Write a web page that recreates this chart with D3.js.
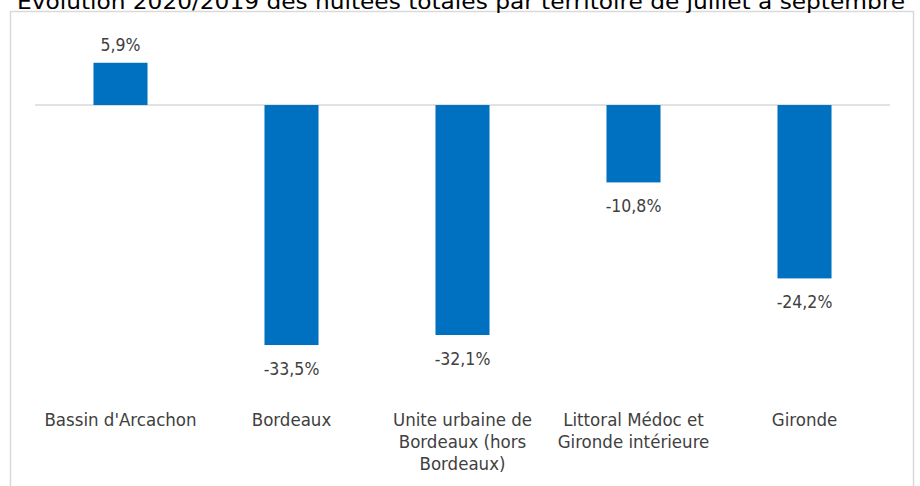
<!DOCTYPE html>
<html>
<head>
<meta charset="utf-8">
<script src="https://cdn.jsdelivr.net/npm/d3@7"></script>
<style>
  html, body { margin: 0; padding: 0; background: #fff; overflow: hidden; }
  text { font-family: "DejaVu Sans Condensed", "DejaVu Sans", sans-serif; }
</style>
</head>
<body>
<div id="chart"></div>
<script>
// Evolution 2020/2019 des nuitées totales par territoire
const categories = ["Bassin d'Arcachon", "Bordeaux", "Unite urbaine de Bordeaux (hors Bordeaux)",
  "Littoral Médoc et Gironde intérieure", "Gironde"];
const values = [5.9, -33.5, -32.1, -10.8, -24.2];
const titleText = "Evolution 2020/2019 des nuitées totales par territoire de juillet à septembre";

const width = 920, height = 486;
const margin = {left: 35, right: 30};
const barColor = "#0070C0", labelColor = "#404040";

const svg = d3.select("#chart").append("svg")
  .attr("width", width).attr("height", height);

function wrapText(sel, wrapWidth, lineHeight = 22) {
  sel.each(function () {
    const text = d3.select(this);
    const words = text.text().split(/\s+/).reverse();
    let word, line = [], lineNumber = 0;
    const y = +text.attr("y"), x = text.attr("x");
    let tspan = text.text(null).append("tspan").attr("x", x).attr("y", y);
    while ((word = words.pop())) {
      line.push(word); tspan.text(line.join(" "));
      if (tspan.node().getComputedTextLength() > wrapWidth) {
        line.pop(); tspan.text(line.join(" "));
        line = [word];
        tspan = text.append("tspan").attr("x", x).attr("y", y + (++lineNumber) * lineHeight).text(word);
      }
    }
  });
}

// chart area border
svg.append("rect").attr("x", 10.5).attr("y", 11.5).attr("width", 903).attr("height", 500)
  .attr("fill", "none").attr("stroke", "#d9d9d9").attr("stroke-width", 1.5);

// title (partly cropped at the top, as in the source picture)
svg.append("text").attr("x", 17).attr("y", 9)
  .attr("font-family", "DejaVu Sans").attr("font-size", 21).attr("fill", "#000")
  .attr("textLength", 888).attr("lengthAdjust", "spacingAndGlyphs")
  .text(titleText);

const x = d3.scaleBand().domain(categories)
  .range([margin.left, width - margin.right])
  .paddingInner(0.684).paddingOuter(0.342);

const y = d3.scaleLinear().domain([-40, 10]).range([391.6, 33.4]);

// zero line
svg.append("line").attr("x1", margin.left).attr("x2", width - margin.right)
  .attr("y1", y(0)).attr("y2", y(0)).attr("stroke", "#d9d9d9").attr("stroke-width", 1.5);

svg.selectAll("rect.bar").data(values).join("rect").attr("class", "bar")
  .attr("x", (d, i) => x(categories[i]))
  .attr("y", d => y(Math.max(0, d)))
  .attr("width", x.bandwidth())
  .attr("height", d => Math.abs(y(d) - y(0)))
  .attr("fill", barColor);

const fmt = v => d3.format(".1f")(v).replace(".", ",").replace("−", "-") + "%";

svg.selectAll("text.val").data(values).join("text").attr("class", "val")
  .attr("x", (d, i) => x(categories[i]) + x.bandwidth() / 2)
  .attr("y", d => d >= 0 ? y(d) - 12 : y(d) + 30)
  .attr("text-anchor", "middle").attr("font-size", 17.5).attr("fill", labelColor)
  .text(fmt);

svg.selectAll("text.cat").data(categories).join("text").attr("class", "cat")
  .attr("x", d => x(d) + x.bandwidth() / 2)
  .attr("y", 426)
  .attr("text-anchor", "middle").attr("font-size", 18.5).attr("fill", labelColor)
  .text(d => d)
  .call(wrapText, x.step() - 2);
</script>
</body>
</html>
